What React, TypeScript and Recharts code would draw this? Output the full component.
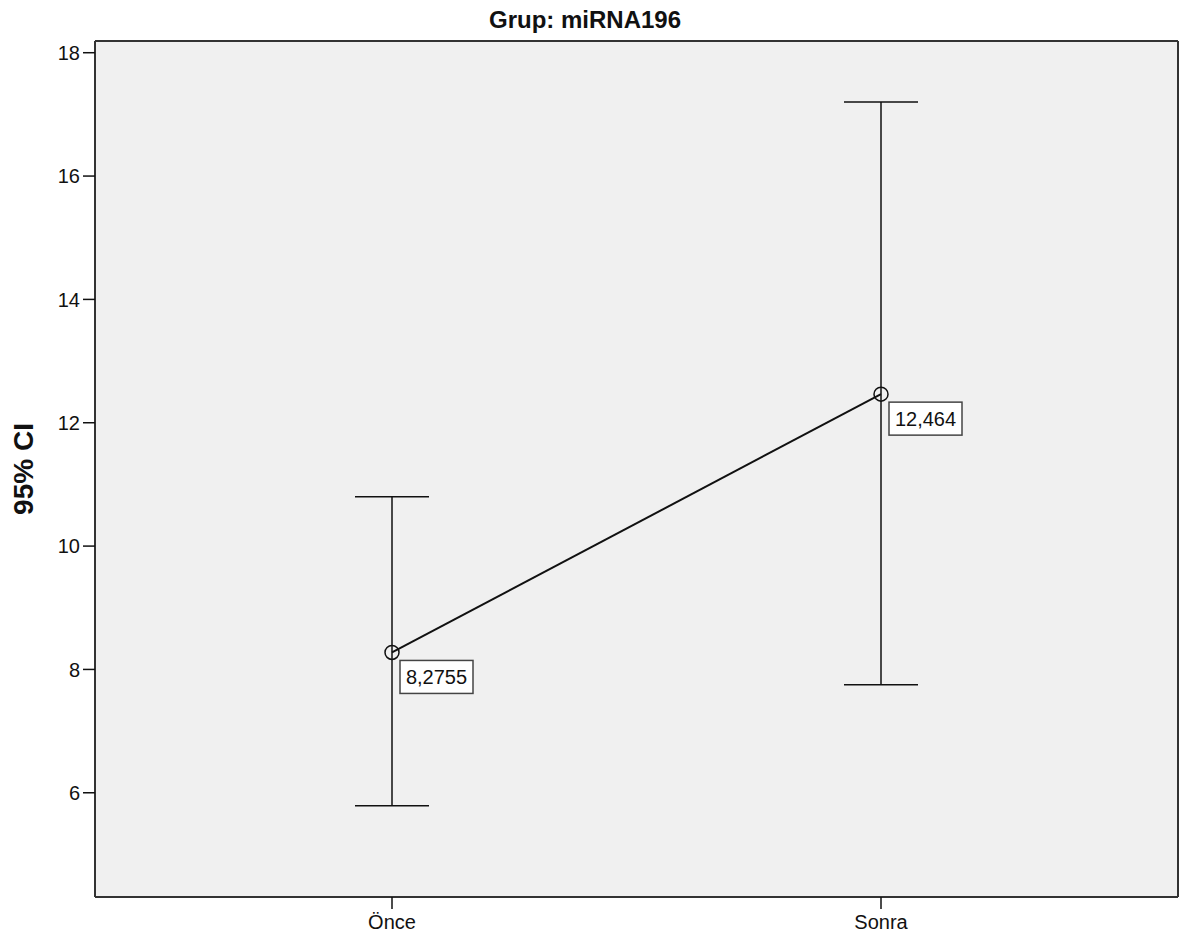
import { LineChart, Line, XAxis, YAxis, CartesianGrid, ErrorBar, LabelList } from "recharts";

const categories = ["Önce", "Sonra"];
const means = [8.2755, 12.464];
const ciLower = [5.79, 7.75];
const ciUpper = [10.8, 17.2];
const meanLabels = ["8,2755", "12,464"];
const yTicks = [6, 8, 10, 12, 14, 16, 18];
const yDomain = [4.31, 18.19];

const data = categories.map((name, i) => ({
  name,
  mean: means[i],
  ci: [means[i] - ciLower[i], ciUpper[i] - means[i]],
  label: meanLabels[i],
}));

const font = "'Liberation Sans', Arial, sans-serif";
const frame = { stroke: "#333", strokeWidth: 2 };

// boxed value label, below-right of the point like SPSS does it
const ValueBox = (props: any) => {
  const { x, y, value } = props;
  return (
    <g>
      <rect x={x + 8} y={y + 8} width={73} height={33} fill="#fff" stroke="#444" strokeWidth={1.5} />
      <text x={x + 44.5} y={y + 32} textAnchor="middle" fontSize={20} fontFamily={font} fill="#111">
        {value}
      </text>
    </g>
  );
};

const OpenDot = (props: any) => {
  const { cx, cy } = props;
  return <circle cx={cx} cy={cy} r={7} fill="none" stroke="#111" strokeWidth={1.5} />;
};

export default function App() {
  return (
    <div style={{ position: "relative", width: 1179, height: 940, background: "#fff" }}>
      <style>{`body{margin:0}`}</style>
      <LineChart width={1179} height={940} data={data} margin={{ top: 40, right: 0, bottom: 3, left: 35 }}>
        <CartesianGrid fill="#f0f0f0" stroke="none" horizontal={false} vertical={false} />
        <XAxis
          dataKey="name"
          padding={{ left: 297, right: 297 }}
          height={40}
          tickSize={12}
          tickMargin={6}
          axisLine={frame}
          tickLine={{ stroke: "#111", strokeWidth: 1.5 }}
          tick={{ fill: "#111", fontSize: 20, fontFamily: font }}
        />
        <XAxis
          xAxisId="top"
          dataKey="name"
          orientation="top"
          height={1}
          tick={false}
          tickLine={false}
          axisLine={frame}
        />
        <YAxis
          type="number"
          domain={yDomain}
          ticks={yTicks}
          allowDataOverflow
          width={60}
          tickSize={12}
          tickMargin={3}
          axisLine={frame}
          tickLine={{ stroke: "#111", strokeWidth: 1.5 }}
          tick={{ fill: "#111", fontSize: 20, fontFamily: font }}
        />
        <YAxis
          yAxisId="right"
          orientation="right"
          type="number"
          domain={yDomain}
          width={1}
          tick={false}
          tickLine={false}
          axisLine={frame}
        />
        <Line
          dataKey="mean"
          stroke="#111"
          strokeWidth={2}
          dot={<OpenDot />}
          activeDot={false}
          isAnimationActive={false}
        >
          <ErrorBar dataKey="ci" direction="y" width={37} stroke="#111" strokeWidth={1.5} isAnimationActive={false} />
          <LabelList dataKey="label" content={<ValueBox />} />
        </Line>
      </LineChart>
      <svg
        width={1179}
        height={940}
        style={{ position: "absolute", left: 0, top: 0, pointerEvents: "none" }}
      >
        <text x={585} y={28} textAnchor="middle" fontSize={24} fontWeight="bold" fontFamily={font} fill="#111">
          Grup: miRNA196
        </text>
        <text
          x={33}
          y={469}
          transform="rotate(-90 33 469)"
          textAnchor="middle"
          fontSize={28}
          fontWeight="bold"
          fontFamily={font}
          fill="#111"
        >
          95% CI
        </text>
      </svg>
    </div>
  );
}
